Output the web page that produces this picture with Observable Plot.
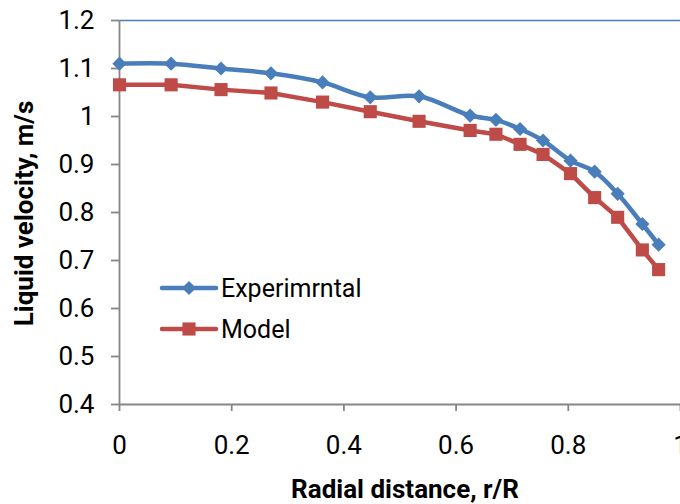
<!DOCTYPE html>
<html>
<head>
<meta charset="utf-8">
<script src="https://cdn.jsdelivr.net/npm/d3@7"></script>
<script src="https://cdn.jsdelivr.net/npm/@observablehq/plot@0.6"></script>
<style>
  html, body { margin: 0; padding: 0; background: #fff; }
  #wrap { position: relative; width: 680px; height: 504px; overflow: hidden; }
  #legend { position: absolute; left: 0; top: 0; }
</style>
</head>
<body>
<div id="wrap"></div>
<script>
// ---- data ----
const radial       = [0, 0.092, 0.181, 0.27, 0.362, 0.447, 0.534, 0.625, 0.671, 0.714, 0.755, 0.804, 0.847, 0.888, 0.932, 0.961];
const experimental = [1.11, 1.11, 1.10, 1.09, 1.071, 1.04, 1.042, 1.002, 0.993, 0.974, 0.95, 0.908, 0.885, 0.839, 0.776, 0.733];
const model        = [1.066, 1.066, 1.056, 1.049, 1.03, 1.01, 0.99, 0.971, 0.963, 0.942, 0.921, 0.881, 0.831, 0.79, 0.722, 0.681];
const seriesNames  = ["Experimrntal", "Model"];
const xTicks = [0, 0.2, 0.4, 0.6, 0.8, 1];
const yTicks = [0.4, 0.5, 0.6, 0.7, 0.8, 0.9, 1, 1.1, 1.2];
const xTitle = "Radial distance, r/R";
const yTitle = "Liquid velocity, m/s";

const BLUE = "#4a7ebb", RED = "#be4b48", GRAY = "#868686";

const expData = radial.map((x, i) => ({x, y: experimental[i]}));
const modData = radial.map((x, i) => ({x, y: model[i]}));

const chart = Plot.plot({
  width: 680,
  height: 504,
  marginLeft: 119,
  marginRight: 0,
  marginTop: 20,
  marginBottom: 100,
  style: {fontFamily: "Roboto", fontSize: "26px", color: "#000", background: "#fff"},
  x: {domain: [0, 1]},
  y: {domain: [0.4, 1.2]},
  marks: [
    Plot.ruleY([1.2], {stroke: BLUE, strokeWidth: 1.3}),
    Plot.ruleY([0.4], {stroke: GRAY, strokeWidth: 1.8}),
    Plot.ruleX([0], {stroke: GRAY, strokeWidth: 1.8}),
    Plot.axisX({ticks: xTicks, tickSize: 7, tickPadding: 24, stroke: GRAY, strokeWidth: 1.8, label: null, tickFormat: d => String(d)}),
    Plot.axisY({ticks: yTicks, tickSize: 8, tickPadding: 17, stroke: GRAY, strokeWidth: 1.8, label: null, tickFormat: d => String(d)}),
    Plot.text([xTitle], {frameAnchor: "bottom", lineAnchor: "bottom", textAnchor: "middle", dx: 5, dy: 93, fontWeight: "bold", fontSize: 26, fill: "#000"}),
    Plot.text([yTitle], {frameAnchor: "left", lineAnchor: "bottom", textAnchor: "middle", rotate: -90, dx: -87, dy: 1, fontWeight: "bold", fontSize: 26, fill: "#000"}),
    Plot.line(expData, {x: "x", y: "y", stroke: BLUE, strokeWidth: 4.5, curve: "catmull-rom"}),
    Plot.dot(expData, {x: "x", y: "y", symbol: "diamond2", r: 6.4, fill: BLUE, stroke: "none"}),
    Plot.line(modData, {x: "x", y: "y", stroke: RED, strokeWidth: 4.5}),
    Plot.dot(modData, {x: "x", y: "y", symbol: "square", r: 7.4, fill: RED, stroke: "none"})
  ]
});
document.getElementById("wrap").appendChild(chart);

// ---- legend (inside plot area, lower left) ----
const legend = d3.select("#wrap").append("svg")
  .attr("id", "legend").attr("width", 680).attr("height", 504);
const items = [
  {name: seriesNames[0], color: BLUE, symbol: d3.symbolDiamond2, size: 128, y: 288},
  {name: seriesNames[1], color: RED, symbol: d3.symbolSquare, size: 172, y: 329}
];
const g = legend.selectAll("g").data(items).join("g")
  .attr("transform", d => `translate(162,${d.y})`);
g.append("line").attr("x1", 0).attr("x2", 54).attr("stroke", d => d.color)
  .attr("stroke-width", 4.5).attr("stroke-linecap", "round");
g.append("path").attr("transform", "translate(27,0)")
  .attr("d", d => d3.symbol(d.symbol, d.size)()).attr("fill", d => d.color);
g.append("text").attr("x", 59).attr("dy", "0.35em")
  .attr("font-family", "Roboto").attr("font-size", 25).attr("fill", "#000")
  .text(d => d.name);
</script>
</body>
</html>
